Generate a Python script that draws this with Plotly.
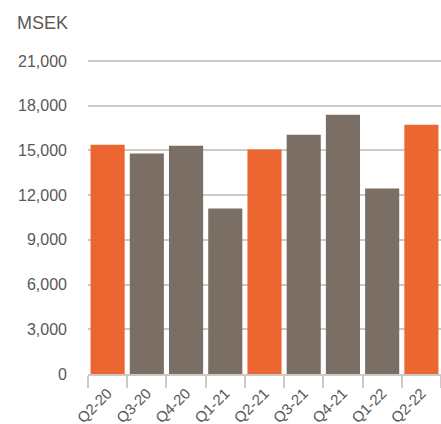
import plotly.graph_objects as go

quarters = ["Q2-20", "Q3-20", "Q4-20", "Q1-21", "Q2-21", "Q3-21", "Q4-21", "Q1-22", "Q2-22"]
values = [15390, 14790, 15320, 11100, 15060, 16060, 17400, 12440, 16730]
highlight = [True, False, False, False, True, False, False, False, True]
y_ticks = [0, 3000, 6000, 9000, 12000, 15000, 18000, 21000]

ORANGE = "#EB6631"
GRAY = "#7B6F65"
colors = [ORANGE if h else GRAY for h in highlight]

fig = go.Figure(go.Bar(x=quarters, y=values, marker_color=colors, marker_line_width=0))

fig.update_layout(
    width=441, height=424,
    margin=dict(l=88, r=0, t=60, b=50, autoexpand=False),
    paper_bgcolor="white", plot_bgcolor="white",
    bargap=0.13,
    showlegend=False,
    font=dict(family="Liberation Sans, Arial, sans-serif", color="#5b5856"),
    annotations=[dict(text="MSEK", xref="paper", yref="paper", x=-73/353, y=1,
                      yshift=37, xanchor="left", yanchor="middle", showarrow=False,
                      font=dict(size=18, color="#5b5856"))],
)
fig.update_yaxes(
    range=[0, 21070], tickvals=y_ticks, tickformat=",d", automargin=False,
    showgrid=True, gridcolor="#CDC9C3", gridwidth=1.5,
    zeroline=False, showline=False,
    tickfont=dict(size=16, color="#5b5856"),
    ticklabelstandoff=20,
)
fig.update_xaxes(
    type="category", tickson="boundaries", ticks="outside", ticklen=12,
    tickcolor="#CDC9C3", tickwidth=1.5, automargin=False,
    showline=True, linecolor="#CDC9C3", linewidth=1.5,
    tickangle=-45, tickfont=dict(size=15, color="#5b5856"),
    ticklabelstandoff=3,
    showgrid=False,
)

fig.write_html(
    "out.html",
    config={"displayModeBar": False},
    post_script="document.body.style.margin='0';document.body.style.overflow='hidden';",
)
